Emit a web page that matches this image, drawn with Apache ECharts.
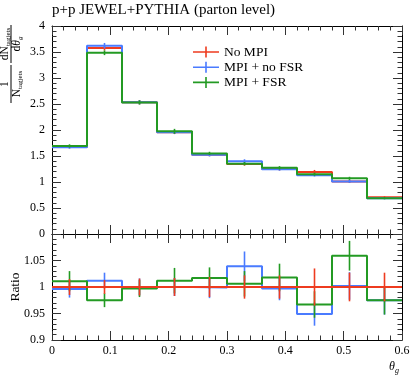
<!DOCTYPE html>
<html><head><meta charset="utf-8">
<script src="https://cdn.jsdelivr.net/npm/echarts@6/dist/echarts.min.js"></script>
<style>html,body{margin:0;padding:0;background:#fff}#c{width:415px;height:375px}</style>
</head><body><div id="c"></div>
<script>
// ---- data ----
const binEdges = [0, 0.06, 0.12, 0.18, 0.24, 0.30, 0.36, 0.42, 0.48, 0.54, 0.60];
const seriesNames = ['No MPI', 'MPI + no FSR', 'MPI + FSR'];
const xTickLabels = ['0', '0.1', '0.2', '0.3', '0.4', '0.5', '0.6'];

const noMPI    = [1.675, 3.575, 2.535, 1.955, 1.525, 1.345, 1.250, 1.190, 1.010, 0.705];
const mpiNoFSR = [1.668, 3.620, 2.535, 1.955, 1.523, 1.398, 1.246, 1.130, 1.012, 0.688];
const mpiFSR   = [1.693, 3.485, 2.530, 1.975, 1.550, 1.353, 1.272, 1.150, 1.070, 0.688];

const errNoMPI    = [0.025, 0.046, 0.041, 0.033, 0.029, 0.030, 0.028, 0.042, 0.027, 0.019];
const errMpiNoFSR = [0.027, 0.054, 0.041, 0.033, 0.030, 0.039, 0.027, 0.025, 0.026, 0.019];
const errMpiFSR   = [0.032, 0.045, 0.040, 0.047, 0.031, 0.032, 0.033, 0.029, 0.030, 0.019];

const ratioNoMPI    = [1, 1, 1, 1, 1, 1, 1, 1, 1, 1];
const ratioMpiNoFSR = [0.996, 1.012, 1.000, 1.000, 0.999, 1.039, 0.997, 0.949, 1.002, 0.975];
const ratioMpiFSR   = [1.011, 0.975, 0.997, 1.012, 1.017, 1.006, 1.018, 0.967, 1.059, 0.975];

const rErrNoMPI    = [0.015, 0.013, 0.016, 0.017, 0.019, 0.022, 0.022, 0.035, 0.027, 0.027];
const rErrMpiNoFSR = [0.016, 0.015, 0.016, 0.017, 0.020, 0.028, 0.022, 0.022, 0.026, 0.027];
const rErrMpiFSR   = [0.019, 0.013, 0.016, 0.024, 0.020, 0.024, 0.026, 0.025, 0.028, 0.027];

// ---- styling ----
const FONT = 'Liberation Serif';
const COLORS = ['#ee3b1f', '#4a7bff', '#239a23'];
const TICK = '#333';

function stepData(vals) {
  const d = [];
  vals.forEach((v, i) => { d.push([binEdges[i], v]); d.push([binEdges[i + 1], v]); });
  return d;
}
function errData(vals, errs) {
  return vals.map((v, i) => [(binEdges[i] + binEdges[i + 1]) / 2, v - errs[i], v + errs[i]]);
}
function errRender(color) {
  return function (params, api) {
    const a = api.coord([api.value(0), api.value(1)]);
    const b = api.coord([api.value(0), api.value(2)]);
    return { type: 'line', shape: { x1: a[0], y1: a[1], x2: b[0], y2: b[1] },
             style: { stroke: color, lineWidth: 1.6 } };
  };
}
function xAx(gi, pos, labels) {
  return {
    type: 'value', gridIndex: gi, position: pos, min: 0, max: 0.6, interval: 0.1,
    axisLine: { show: true, onZero: false, lineStyle: { color: '#000', width: 1 } },
    axisTick: { show: true, inside: true, length: 9, lineStyle: { color: TICK } },
    minorTick: { show: true, splitNumber: 5, length: 4.5, lineStyle: { color: TICK } },
    splitLine: { show: false }, minorSplitLine: { show: false },
    axisLabel: { show: labels, margin: 5, fontFamily: FONT, fontSize: 12, color: '#000',
      formatter: v => xTickLabels[Math.round(v * 10)] }
  };
}
function yAx(gi, pos, min, max, interval, labels, fmt) {
  return {
    type: 'value', gridIndex: gi, position: pos, min: min, max: max, interval: interval,
    axisLine: { show: true, onZero: false, lineStyle: { color: '#000', width: 1 } },
    axisTick: { show: true, inside: true, length: 9, lineStyle: { color: TICK } },
    minorTick: { show: true, splitNumber: 5, length: 4.5, lineStyle: { color: TICK } },
    splitLine: { show: false }, minorSplitLine: { show: false },
    axisLabel: { show: labels, margin: 7, fontFamily: FONT, fontSize: 12, color: '#000', formatter: fmt }
  };
}

const mainVals = [noMPI, mpiNoFSR, mpiFSR];
const mainErrs = [errNoMPI, errMpiNoFSR, errMpiFSR];
const ratVals = [ratioNoMPI, ratioMpiNoFSR, ratioMpiFSR];
const ratErrs = [rErrNoMPI, rErrMpiNoFSR, rErrMpiFSR];

const series = [];
// main panel: red, blue, green (green on top)
[0, 1, 2].forEach(k => {
  series.push({ name: seriesNames[k], type: 'line', xAxisIndex: 0, yAxisIndex: 0,
    data: stepData(mainVals[k]), symbol: 'none', showSymbol: false,
    lineStyle: { color: COLORS[k], width: 2 }, itemStyle: { color: COLORS[k] }, z: 2 + k });
  series.push({ name: seriesNames[k], type: 'custom', xAxisIndex: 0, yAxisIndex: 0,
    data: errData(mainVals[k], mainErrs[k]), encode: { x: 0, y: [1, 2] },
    renderItem: errRender(COLORS[k]), itemStyle: { color: COLORS[k] }, z: 2 + k });
});
// ratio panel: blue, green, red (red on top)
[1, 2, 0].forEach((k, j) => {
  series.push({ name: seriesNames[k], type: 'line', xAxisIndex: 2, yAxisIndex: 2,
    data: stepData(ratVals[k]), symbol: 'none', showSymbol: false,
    lineStyle: { color: COLORS[k], width: 2 }, itemStyle: { color: COLORS[k] }, z: 2 + j });
  series.push({ name: seriesNames[k], type: 'custom', xAxisIndex: 2, yAxisIndex: 2,
    data: errData(ratVals[k], ratErrs[k]), encode: { x: 0, y: [1, 2] },
    renderItem: errRender(COLORS[k]), itemStyle: { color: COLORS[k] }, z: 2 + j });
});

const txt = (s, extra) => Object.assign({ text: s, fontFamily: FONT, fill: '#000' }, extra || {});
const richY = {
  m: { fontFamily: FONT, fontSize: 11.5, lineHeight: 11, verticalAlign: 'middle' },
  s: { fontFamily: FONT, fontSize: 7, lineHeight: 14, verticalAlign: 'bottom' },
  i: { fontFamily: FONT, fontSize: 11.5, lineHeight: 11, fontStyle: 'italic', verticalAlign: 'middle' },
  si: { fontFamily: FONT, fontSize: 7, lineHeight: 14, fontStyle: 'italic', verticalAlign: 'bottom' }
};

const option = {
  animation: false,
  backgroundColor: '#fff',
  grid: [
    { left: 52, top: 26, width: 350, height: 208, containLabel: false },
    { left: 52, top: 234, width: 350, height: 106, containLabel: false }
  ],
  xAxis: [xAx(0, 'bottom', false), xAx(0, 'top', false), xAx(1, 'bottom', true), xAx(1, 'top', false)],
  yAxis: [
    yAx(0, 'left', 0, 4, 0.5, true, v => String(v)),
    yAx(0, 'right', 0, 4, 0.5, false),
    yAx(1, 'left', 0.9, 1.1, 0.05, true, v => (Math.abs(v - 1.1) < 1e-6 ? '' : String(+v.toFixed(2)))),
    yAx(1, 'right', 0.9, 1.1, 0.05, false)
  ],
  legend: {
    data: seriesNames, orient: 'vertical', left: 193, top: 45, padding: 0,
    itemWidth: 26, itemHeight: 11, itemGap: 1.2, selectedMode: false,
    icon: 'path://M0,4.7 L26,4.7 L26,6.3 L0,6.3 Z M12.2,0 L13.8,0 L13.8,11 L12.2,11 Z',
    textStyle: { fontFamily: FONT, fontSize: 13.5, color: '#000' }
  },
  graphic: [
    { type: 'text', left: 52, top: 3, style: txt('p+p JEWEL+PYTHIA (parton level)', { fontSize: 15 }) },
    { type: 'text', x: 15, y: 287, rotation: Math.PI / 2,
      style: txt('Ratio', { fontSize: 13.5, align: 'center', verticalAlign: 'middle' }) },
    { type: 'text', x: 389, y: 359,
      style: { text: '{i|θ}{si|g}', rich: {
        i: { fontFamily: FONT, fontSize: 12, lineHeight: 12, fontStyle: 'italic', verticalAlign: 'middle' },
        si: { fontFamily: FONT, fontSize: 8, lineHeight: 16, fontStyle: 'italic', verticalAlign: 'bottom' } } } },
    { type: 'group', x: 0, y: 105, rotation: Math.PI / 2, children: [
      { type: 'text', x: 21, y: 5, style: txt('1', { fontSize: 11.5, align: 'center', verticalAlign: 'middle' }) },
      { type: 'line', shape: { x1: 2, y1: 11, x2: 40, y2: 11 }, style: { stroke: '#000', lineWidth: 1 } },
      { type: 'text', x: 21, y: 17, style: { text: '{m|N}{s|tagjets}', rich: richY, align: 'center', verticalAlign: 'middle' } },
      { type: 'text', x: 61, y: 5, style: { text: '{m|dN}{s|tagjets}', rich: richY, align: 'center', verticalAlign: 'middle' } },
      { type: 'line', shape: { x1: 42, y1: 11, x2: 80, y2: 11 }, style: { stroke: '#000', lineWidth: 1 } },
      { type: 'text', x: 61, y: 17, style: { text: '{m|d}{i|θ}{si|g}', rich: richY, align: 'center', verticalAlign: 'middle' } }
    ] }
  ],
  series: series
};

const chart = echarts.init(document.getElementById('c'), null, { renderer: 'canvas' });
chart.setOption(option);
</script>
</body></html>
